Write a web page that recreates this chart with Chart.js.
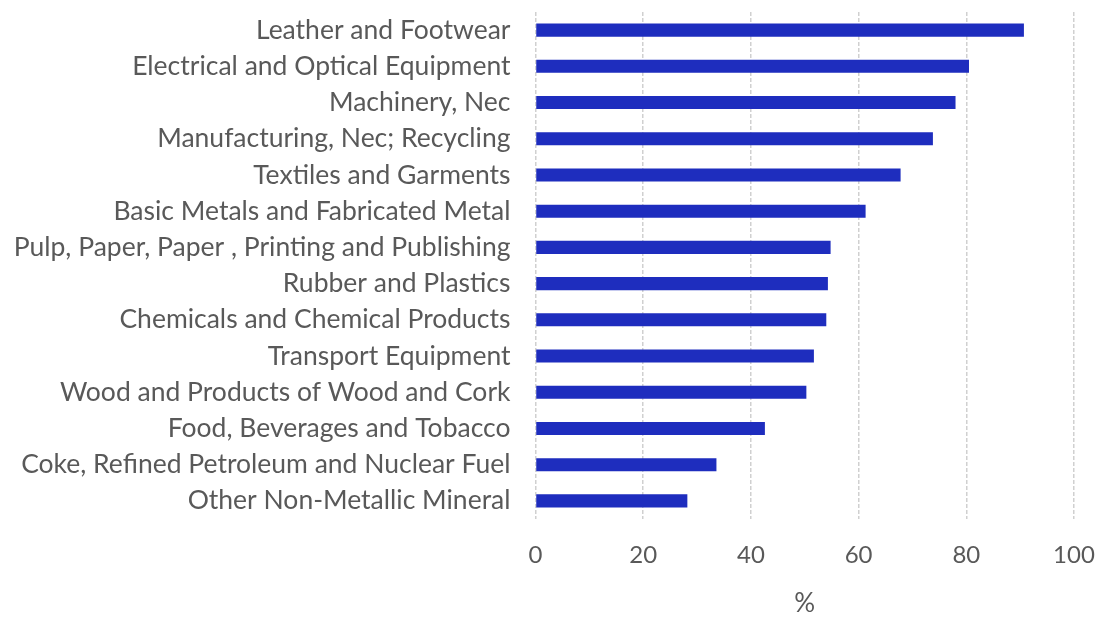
<!DOCTYPE html>
<html>
<head>
<meta charset="utf-8">
<script src="https://cdn.jsdelivr.net/npm/chart.js@4.4.1/dist/chart.umd.min.js"></script>
<style>
  html, body { margin: 0; padding: 0; background: #ffffff; }
  #wrap { width: 1102px; height: 619px; }
</style>
</head>
<body>
<div id="wrap"><canvas id="c" width="1102" height="619"></canvas></div>
<script>
const categories = [
  "Leather and Footwear",
  "Electrical and Optical Equipment",
  "Machinery, Nec",
  "Manufacturing, Nec; Recycling",
  "Textiles and Garments",
  "Basic Metals and Fabricated Metal",
  "Pulp, Paper, Paper , Printing and Publishing",
  "Rubber and Plastics",
  "Chemicals and Chemical Products",
  "Transport Equipment",
  "Wood and Products of Wood and Cork",
  "Food, Beverages and Tobacco",
  "Coke, Refined Petroleum and Nuclear Fuel",
  "Other Non-Metallic Mineral"
];
const values = [90.7, 80.5, 78.0, 73.8, 67.8, 61.3, 54.8, 54.3, 54.0, 51.7, 50.3, 42.6, 33.6, 28.2];
const xTicks = [0, 20, 40, 60, 80, 100];
const axisTitle = "%";

const FONT = "Lato, 'Open Sans', sans-serif";
const GREY = "#595959";

new Chart(document.getElementById("c"), {
  type: "bar",
  data: {
    labels: categories,
    datasets: [{
      data: values,
      backgroundColor: "#1e2dbe",
      borderWidth: 0,
      barPercentage: 0.36,
      categoryPercentage: 1.0
    }]
  },
  options: {
    indexAxis: "y",
    responsive: false,
    animation: false,
    devicePixelRatio: 1,
    layout: { padding: { top: 12, right: 28, bottom: 0, left: 0 } },
    plugins: { legend: { display: false }, tooltip: { enabled: false } },
    scales: {
      x: {
        min: 0, max: 100,
        afterBuildTicks: (axis) => { axis.ticks = xTicks.map(v => ({ value: v })); },
        grid: { color: "#d0d0d0", lineWidth: 1.5, drawTicks: false },
        border: { display: false, dash: [4, 2] },
        ticks: { color: GREY, font: { family: FONT, size: 24 }, padding: 22 },
        title: { display: true, text: axisTitle, color: GREY, font: { family: FONT, size: 26 }, padding: { top: 0, bottom: 0 } },
        afterFit: (axis) => { axis.height = 100; axis.paddingLeft = 0; axis.paddingRight = 0; }
      },
      y: {
        grid: { display: false, drawTicks: false },
        border: { display: false },
        ticks: { color: GREY, font: { family: FONT, size: 26.5 }, padding: 25, autoSkip: false },
        afterFit: (axis) => { axis.width = 535.5; axis.paddingTop = 0; axis.paddingBottom = 0; }
      }
    }
  }
});
</script>
</body>
</html>
